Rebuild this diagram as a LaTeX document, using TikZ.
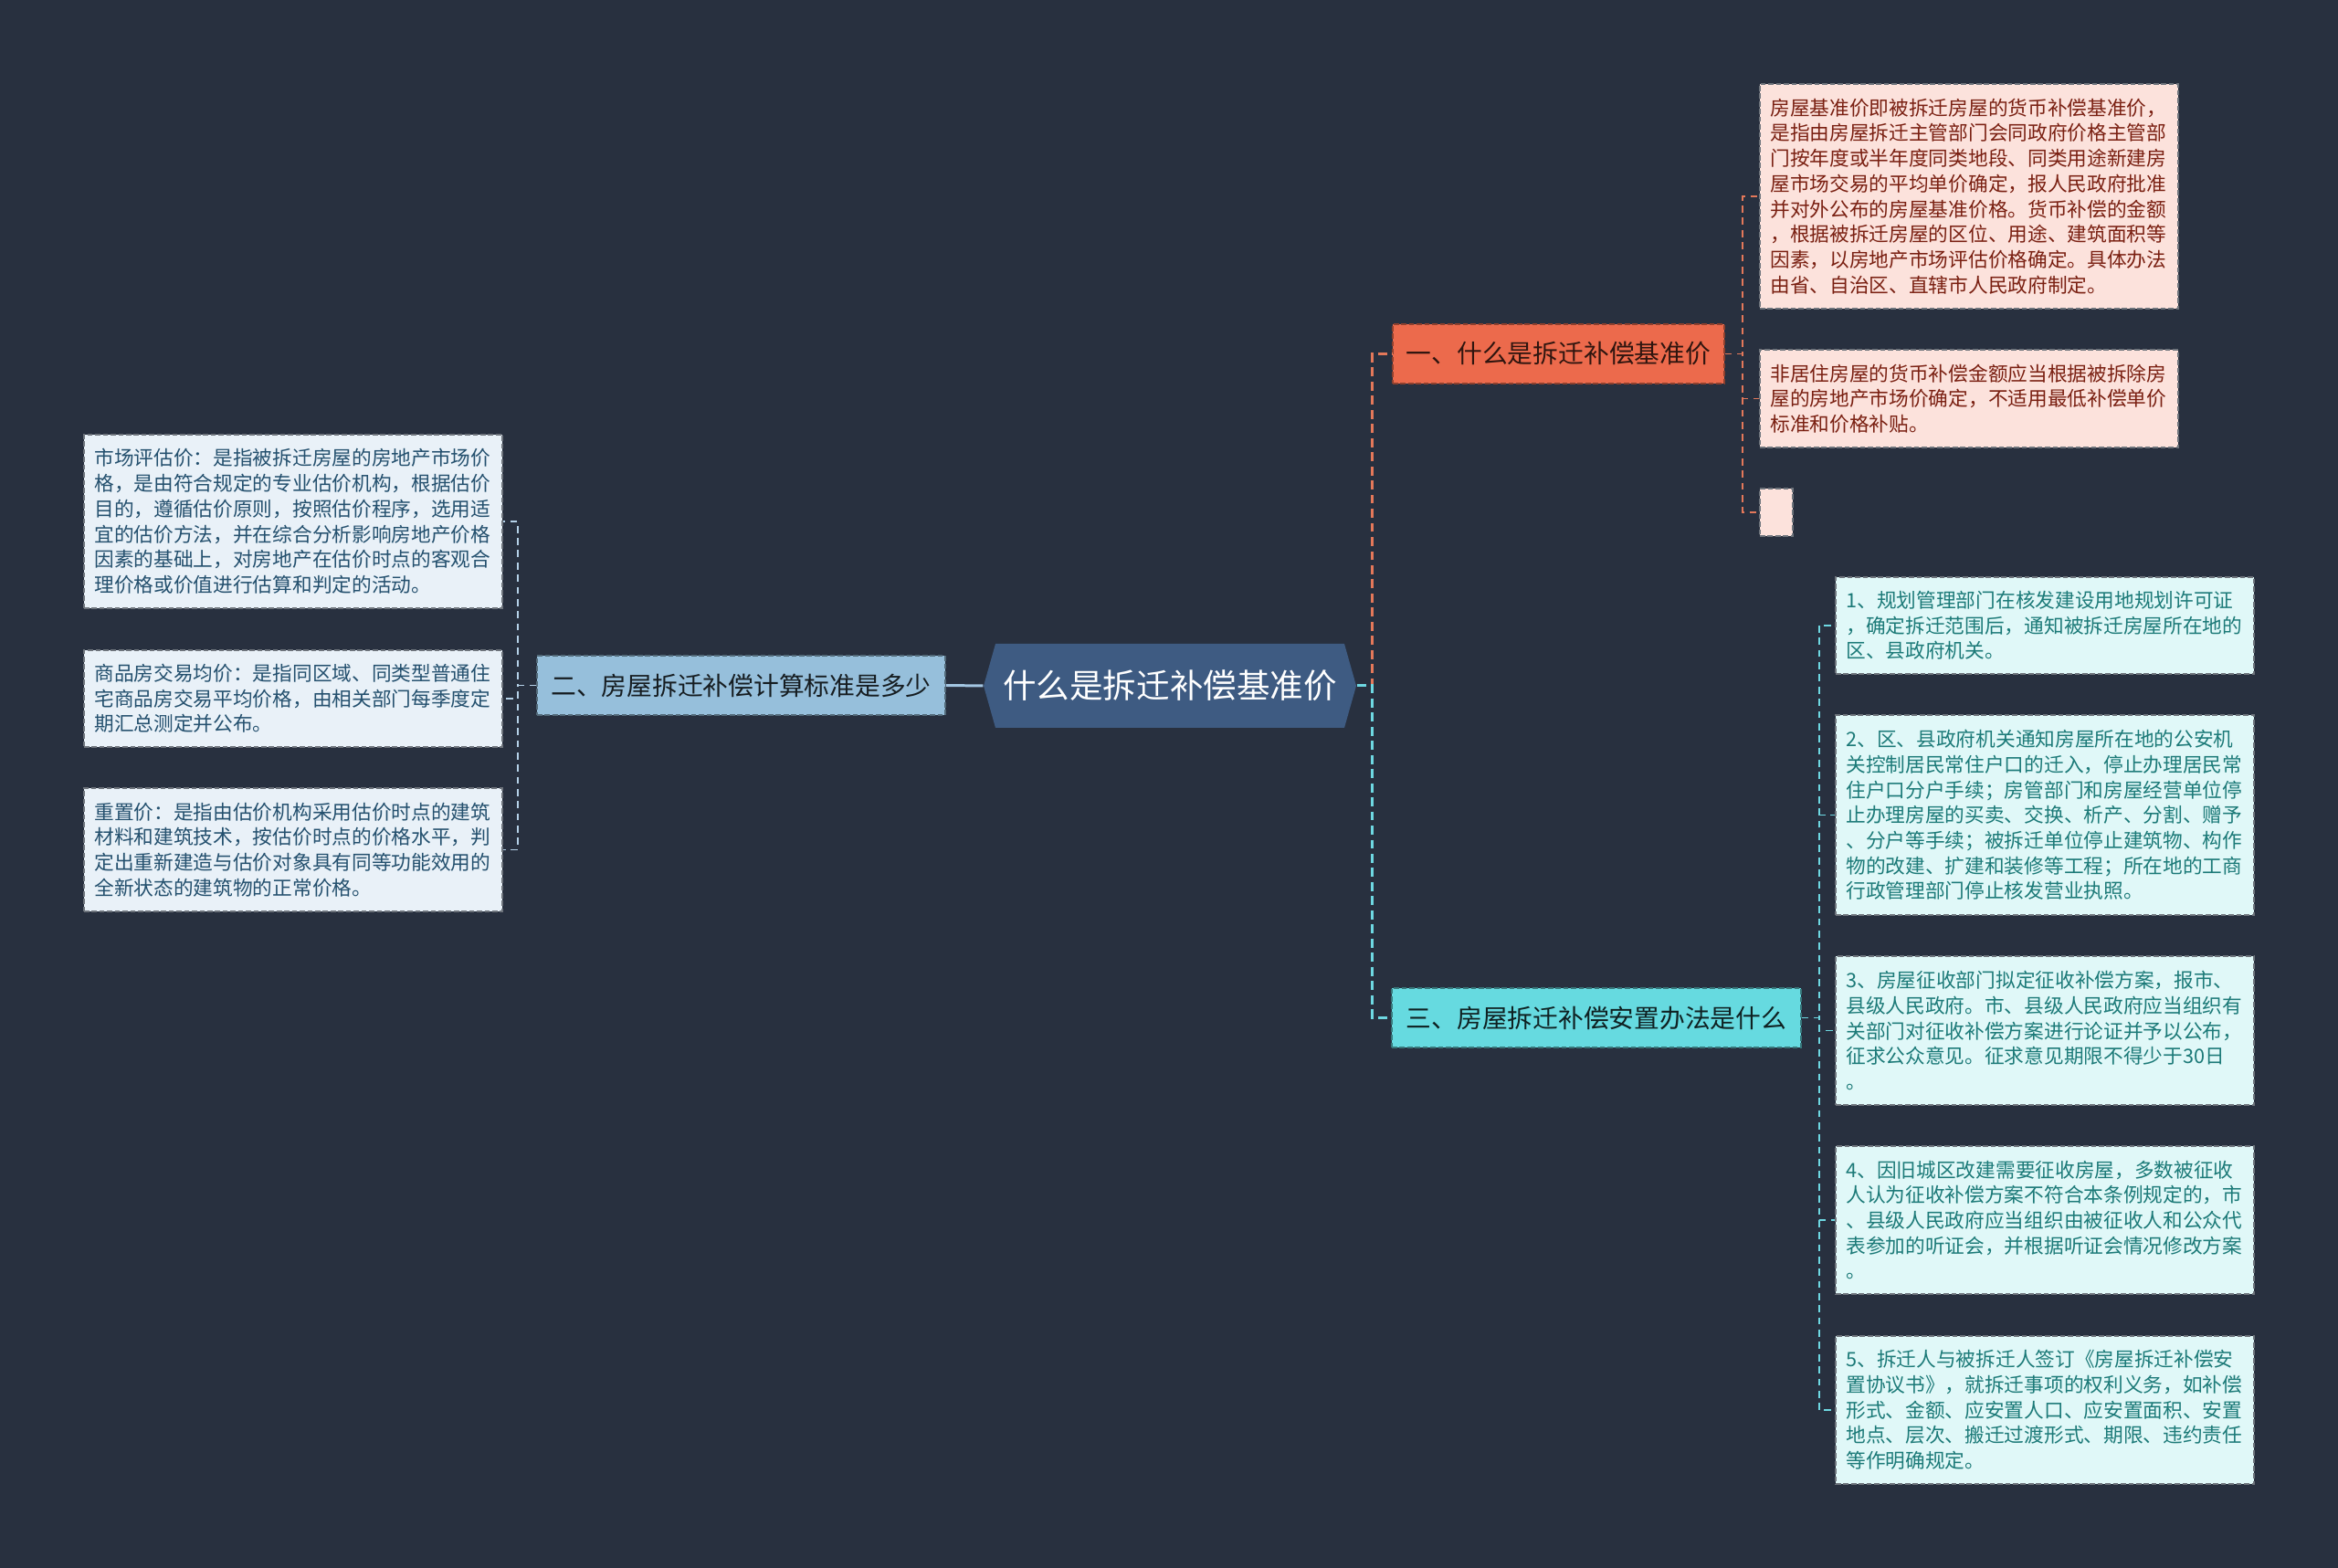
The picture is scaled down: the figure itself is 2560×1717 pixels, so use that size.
\documentclass[tikz,border=0pt]{standalone}
\usepackage{fontspec}
\setmainfont{Noto Sans CJK SC}
\definecolor{bg}{HTML}{28303F}
\definecolor{rootc}{HTML}{3E5B82}
\definecolor{lineB}{HTML}{A3C6E2}
\definecolor{lineO}{HTML}{E4785A}
\definecolor{lineC}{HTML}{6ED8E2}
\definecolor{fillO}{HTML}{EC6A4C}
\definecolor{fillB}{HTML}{96BFDB}
\definecolor{fillC}{HTML}{66DAE0}
\definecolor{leafO}{HTML}{FCE2DC}
\definecolor{leafB}{HTML}{E9F1F8}
\definecolor{leafC}{HTML}{E0F8F8}
\definecolor{txtO}{HTML}{7A2012}
\definecolor{txtB}{HTML}{24506E}
\definecolor{txtC}{HTML}{1C7A78}
\definecolor{bordr}{HTML}{6E747C}
\begin{document}
\begin{tikzpicture}[x=0.1mm,y=-0.1mm,
  rootnode/.style={minimum width=40.8mm,minimum height=9.2mm,inner sep=0pt,text=white,
    font=\fontsize{10.4}{12}\selectfont},
  branchbox/.style={draw=#1,dashed,line width=0.4pt,dash pattern=on 1.6pt off 0.8pt,
    minimum height=6.5mm,inner sep=0pt,font=\fontsize{7.9}{9.5}\selectfont},
  leafbox/.style={draw=bordr,line width=0.4pt,dash pattern=on 1.6pt off 0.8pt,
    inner xsep=1.15mm,inner ysep=0pt,align=left,font=\fontsize{6.17}{7.88}\selectfont},
  wideleaf/.style={leafbox,text width=43.5mm},
  conn/.style={line width=0.85pt,dash pattern=on 2.8pt off 1.6pt},
  subconn/.style={line width=0.55pt,dash pattern=on 2.2pt off 1.6pt}
]
\fill[bg] (0,0) rectangle (2560,1717);
\useasboundingbox (0,0) rectangle (2560,1717);

% root
\fill[rootc] (1077,751) -- (1090,705) -- (1472,705) -- (1485,751) -- (1472,797) -- (1090,797) -- cycle;
\node[rootnode] (root) at (1281,751) {什么是拆迁补偿基准价};

% branches
\node[branchbox=fillO!60!black,fill=fillO,text=black!80!fillO,minimum width=36.3mm] (b1) at (1706.5,387.5) {一、什么是拆迁补偿基准价};
\node[branchbox=fillB!55!black,fill=fillB,text=black!85!fillB,minimum width=44.7mm] (b2) at (811.5,750.5) {二、房屋拆迁补偿计算标准是多少};
\node[branchbox=fillC!55!black,fill=fillC,text=black!85!fillC,minimum width=44.8mm] (b3) at (1748,1114.5) {三、房屋拆迁补偿安置办法是什么};

% branch 1 leaves
\node[wideleaf,fill=leafO,text=txtO,minimum height=24.6mm] (a1) at (2156,215) {房屋基准价即被拆迁房屋的货币补偿基准价，\\是指由房屋拆迁主管部门会同政府价格主管部\\门按年度或半年度同类地段、同类用途新建房\\屋市场交易的平均单价确定，报人民政府批准\\并对外公布的房屋基准价格。货币补偿的金额\\，根据被拆迁房屋的区位、用途、建筑面积等\\因素，以房地产市场评估价格确定。具体办法\\由省、自治区、直辖市人民政府制定。};
\node[wideleaf,fill=leafO,text=txtO,minimum height=10.7mm] (a2) at (2156,436.5) {非居住房屋的货币补偿金额应当根据被拆除房\\屋的房地产市场价确定，不适用最低补偿单价\\标准和价格补贴。};
\node[leafbox,fill=leafO,minimum width=3.6mm,minimum height=5.2mm] (a3) at (1945,561) {};

% branch 2 leaves
\node[wideleaf,fill=leafB,text=txtB,minimum height=19mm] (c1) at (321,571) {市场评估价：是指被拆迁房屋的房地产市场价\\格，是由符合规定的专业估价机构，根据估价\\目的，遵循估价原则，按照估价程序，选用适\\宜的估价方法，并在综合分析影响房地产价格\\因素的基础上，对房地产在估价时点的客观合\\理价格或价值进行估算和判定的活动。};
\node[wideleaf,fill=leafB,text=txtB,minimum height=10.6mm] (c2) at (321,765) {商品房交易均价：是指同区域、同类型普通住\\宅商品房交易平均价格，由相关部门每季度定\\期汇总测定并公布。};
\node[wideleaf,fill=leafB,text=txtB,minimum height=13.5mm] (c3) at (321,930.5) {重置价：是指由估价机构采用估价时点的建筑\\材料和建筑技术，按估价时点的价格水平，判\\定出重新建造与估价对象具有同等功能效用的\\全新状态的建筑物的正常价格。};

% branch 3 leaves
\node[wideleaf,fill=leafC,text=txtC,minimum height=10.6mm] (d1) at (2239,685) {1、规划管理部门在核发建设用地规划许可证\\，确定拆迁范围后，通知被拆迁房屋所在地的\\区、县政府机关。};
\node[wideleaf,fill=leafC,text=txtC,minimum height=21.9mm] (d2) at (2239,892.5) {2、区、县政府机关通知房屋所在地的公安机\\关控制居民常住户口的迁入，停止办理居民常\\住户口分户手续；房管部门和房屋经营单位停\\止办理房屋的买卖、交换、析产、分割、赠予\\、分户等手续；被拆迁单位停止建筑物、构作\\物的改建、扩建和装修等工程；所在地的工商\\行政管理部门停止核发营业执照。};
\node[wideleaf,fill=leafC,text=txtC,minimum height=16.3mm] (d3) at (2239,1128.5) {3、房屋征收部门拟定征收补偿方案，报市、\\县级人民政府。市、县级人民政府应当组织有\\关部门对征收补偿方案进行论证并予以公布，\\征求公众意见。征求意见期限不得少于30日\\。};
\node[wideleaf,fill=leafC,text=txtC,minimum height=16.2mm] (d4) at (2239,1336) {4、因旧城区改建需要征收房屋，多数被征收\\人认为征收补偿方案不符合本条例规定的，市\\、县级人民政府应当组织由被征收人和公众代\\表参加的听证会，并根据听证会情况修改方案\\。};
\node[wideleaf,fill=leafC,text=txtC,minimum height=16.2mm] (d5) at (2239,1544) {5、拆迁人与被拆迁人签订《房屋拆迁补偿安\\置协议书》，就拆迁事项的权利义务，如补偿\\形式、金额、应安置人口、应安置面积、安置\\地点、层次、搬迁过渡形式、期限、违约责任\\等作明确规定。};

% connectors root -> branches
\draw[lineB,line width=0.85pt] (root.west) -- (b2.east);
\draw[lineO,conn] (root.east) -- ++(17,0) |- (b1.west);
\draw[lineC,conn] (root.east) -- ++(17,0) |- (b3.west);

% branch 1 -> leaves
\foreach \n in {a1,a2,a3}
  \draw[lineO,subconn] (b1.east) -- ++(19,0) |- (\n.west);
% branch 2 -> leaves
\foreach \n in {c1,c2,c3}
  \draw[lineB!80!white,subconn] (b2.west) -- ++(-20,0) |- (\n.east);
% branch 3 -> leaves
\foreach \n in {d1,d2,d3,d4,d5}
  \draw[lineC,subconn] (b3.east) -- ++(19,0) |- (\n.west);
\end{tikzpicture}
\end{document}
